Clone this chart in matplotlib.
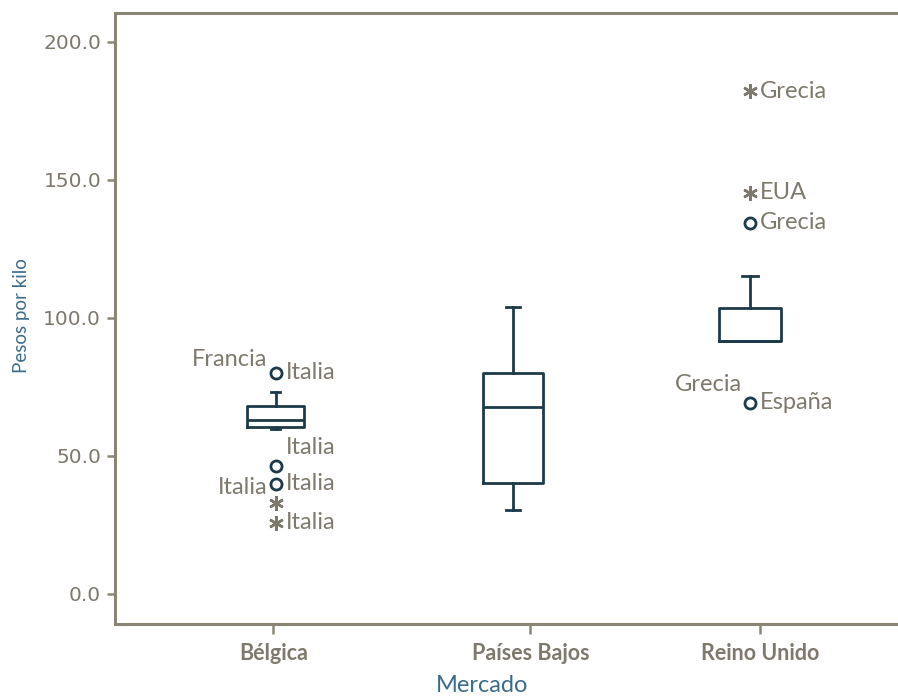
import matplotlib
matplotlib.use("Agg")
import matplotlib.pyplot as plt

plt.rcParams['font.family'] = ['Lato', 'DejaVu Sans']

# Categories and box summaries (pesos por kilo)
mercados = ["Bélgica", "Países Bajos", "Reino Unido"]
whislo = [59.7, 30.4, 91.7]
q1 = [60.6, 40.3, 91.7]
med = [63.0, 67.9, 91.7]
q3 = [68.1, 80.0, 103.7]
whishi = [73.3, 104.1, 115.2]

# Outliers (circles) and extreme values (asterisks)
atipicos_mercado = [0, 0, 0, 2, 2]
atipicos_valor = [80.1, 46.4, 39.9, 134.4, 69.3]
extremos_mercado = [0, 0, 2, 2]
extremos_valor = [33.0, 25.7, 182.2, 145.3]

# Case labels: mercado index, value, text, side, vertical shift in pixels
etiquetas_mercado = [0, 0, 0, 0, 0, 0, 2, 2, 2, 2, 2]
etiquetas_valor = [80.1, 80.1, 46.4, 39.9, 39.9, 25.7, 182.2, 145.3, 134.4, 69.3, 69.3]
etiquetas_texto = ["Francia", "Italia", "Italia", "Italia", "Italia", "Italia",
                   "Grecia", "EUA", "Grecia", "Grecia", "España"]
etiquetas_lado = ["l", "r", "r", "l", "r", "r", "r", "r", "r", "l", "r"]
etiquetas_dy = [13, 0, 18, -4, 0, 0, 0, 0, 0, 18, 0]

y_ticks = [0, 50, 100, 150, 200]

box_color = "#1d3a4a"
text_gray = "#7e796d"
spine_color = "#8a8574"
label_blue = "#3b6b8c"

fig = plt.figure(figsize=(8.98, 6.98), dpi=100)
ax = fig.add_axes([115 / 898, (698 - 624) / 698, 1 - 115 / 898, (624 - 12.7) / 698])

positions = [1, 2, 3]
stats = [dict(med=med[i], q1=q1[i], q3=q3[i], whislo=whislo[i], whishi=whishi[i],
              fliers=[], label=mercados[i]) for i in range(3)]
lp = dict(color=box_color, linewidth=2.0)
ax.bxp(stats, positions=positions, widths=[0.24, 0.255, 0.265],
       capwidths=[0.04, 0.06, 0.07],
       boxprops=lp, whiskerprops=lp, capprops=lp,
       medianprops=dict(color=box_color, linewidth=2.0),
       showfliers=False, manage_ticks=False)

ax.plot([positions[i] for i in atipicos_mercado], atipicos_valor, linestyle="none",
        marker="o", markersize=8.0, markerfacecolor="white",
        markeredgecolor=box_color, markeredgewidth=2.0, zorder=4)
ax.plot([positions[i] for i in extremos_mercado], extremos_valor, linestyle="none",
        marker=(6, 2, 0), markersize=10.5, markeredgecolor=text_gray,
        markeredgewidth=1.8, zorder=4)

for m, v, t, s, dy in zip(etiquetas_mercado, etiquetas_valor, etiquetas_texto,
                          etiquetas_lado, etiquetas_dy):
    if s == "r":
        ax.annotate(t, (positions[m], v), xytext=(10, dy), textcoords="offset pixels",
                    ha="left", va="center", fontsize=17, color=text_gray)
    else:
        ax.annotate(t, (positions[m], v), xytext=(-8, dy), textcoords="offset pixels",
                    ha="right", va="center", fontsize=17, color=text_gray)

ax.set_xlim(0.323, 3.624)
ax.set_ylim(-10.9, 210.6)

# category ticks sit slightly off the box centres
tick_offsets = [-0.01, 0.074, 0.041]
ax.set_xticks([p + o for p, o in zip(positions, tick_offsets)])
ax.set_xticklabels(mercados, fontsize=15.5, fontweight="bold", color=text_gray)
ax.set_yticks(y_ticks)
ax.set_yticklabels([f"{v:.1f}" for v in y_ticks], fontsize=14.5, color=text_gray,
                   family=["DejaVu Sans"])

ax.tick_params(axis="y", length=6, width=1.8, color=spine_color, pad=4)
ax.tick_params(axis="x", length=7, width=1.8, color=spine_color, pad=7)

for side in ["left", "bottom", "top"]:
    ax.spines[side].set_color(spine_color)
    ax.spines[side].set_linewidth(2.2)
ax.spines["right"].set_visible(False)

ax.set_ylabel("Pesos por kilo", fontsize=13.5, color=label_blue, va="center")
ax.yaxis.set_label_coords(-0.119, 0.504)
ax.set_xlabel("Mercado", fontsize=17, color=label_blue, va="center")
ax.xaxis.set_label_coords(0.469, -0.1)

fig.savefig("out.png", dpi=100)
